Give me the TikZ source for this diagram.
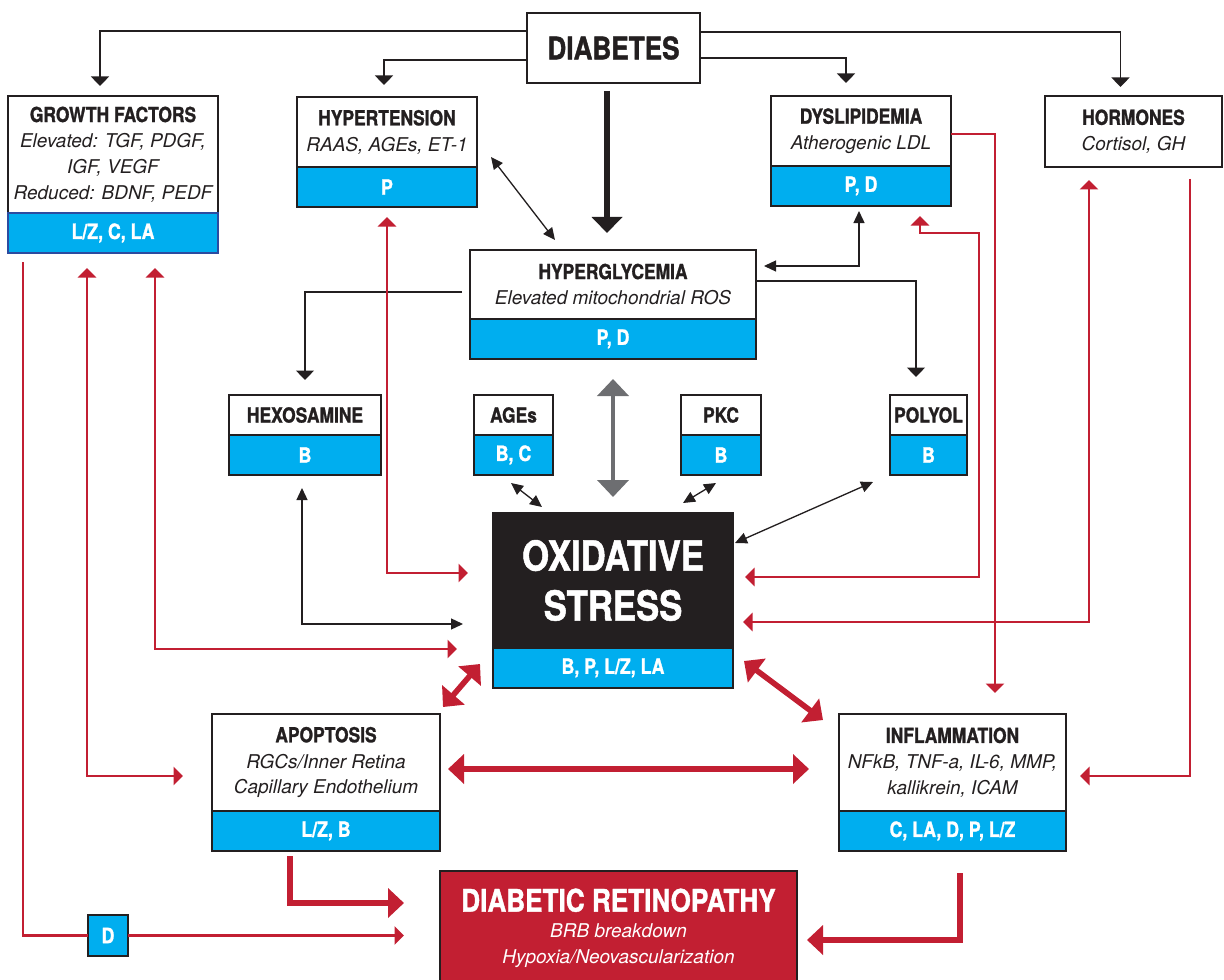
\documentclass[tikz,border=0pt]{standalone}
\usepackage{fontspec}
\setmainfont{TeX Gyre Heros}
\newfontfamily\condfont[FakeStretch=0.84, FakeBold=1.2]{TeX Gyre Heros}
\usetikzlibrary{arrows.meta,positioning,calc}
\definecolor{ink}{HTML}{231F20}
\definecolor{cyanbar}{HTML}{00AEEF}
\definecolor{lesion}{HTML}{C21F32}
\definecolor{navy}{HTML}{2B4BA0}
\definecolor{slate}{HTML}{6D6E71}
\newcommand{\hd}[1]{{\condfont\bfseries\upshape\fontsize{11.8}{14.7}\selectfont #1}}

\begin{document}
\begin{tikzpicture}[x=0.2mm, y=-0.2mm,
  box/.style={draw=ink, line width=1.4pt, fill=white, inner sep=0pt, outer sep=0pt, align=center, text=ink, font=\itshape\fontsize{10.8}{14.7}\selectfont},
  bar/.style={box, fill=cyanbar, text=white, minimum height=8mm, font=\condfont\bfseries\fontsize{12}{14}\selectfont},
  link/.style={draw=ink, line width=0.75pt, -{Triangle[width=3.6mm,length=1.9mm]}},
  twin/.style={draw=ink, line width=0.75pt, {Triangle[width=2.2mm,length=2.4mm]}-{Triangle[width=2.2mm,length=2.4mm]}},
  redlink/.style={draw=lesion, line width=1.5pt, -{Triangle[width=3.6mm,length=1.9mm]}},
  redtwin/.style={draw=lesion, line width=1.5pt, {Triangle[width=3.6mm,length=1.9mm]}-{Triangle[width=3.6mm,length=1.9mm]}},
  heavy/.style={draw=lesion, line width=3.2pt, -{Triangle[width=5.8mm,length=3.2mm]}},
  heavytwin/.style={draw=lesion, line width=3.2pt, {Triangle[width=5.8mm,length=3.2mm]}-{Triangle[width=5.8mm,length=3.2mm]}}
]
  \useasboundingbox (0,0) rectangle (1224,980);

  % top row
  \node[box, minimum width=34.6mm, minimum height=14mm, font=\condfont\bfseries\fontsize{17.7}{20}\selectfont] (diab) at (613.5,48) {DIABETES};
  \node[box, minimum width=42mm, minimum height=23.4mm] (grow) at (113,154.5) {\hd{GROWTH FACTORS}\\Elevated: TGF, PDGF,\\IGF, VEGF\\Reduced: BDNF, PEDF};
  \node[bar, draw=navy, minimum width=42mm, below=0pt of grow] (growS) {L/Z, C, LA};
  \node[box, minimum width=36mm, minimum height=14mm] (hyp) at (387,132) {\hd{HYPERTENSION}\\RAAS, AGEs, ET-1};
  \node[bar, minimum width=36mm, below=0pt of hyp] (hypS) {P};
  \node[box, minimum width=36mm, minimum height=14mm] (dys) at (861,131) {\hd{DYSLIPIDEMIA}\\Atherogenic LDL};
  \node[bar, minimum width=36mm, below=0pt of dys] (dysS) {P, D};
  \node[box, minimum width=35.4mm, minimum height=14.2mm] (horm) at (1133.5,131.5) {\hd{HORMONES}\\Cortisol, GH};

  % hyperglycemia and its pathways
  \node[box, minimum width=57.2mm, minimum height=13.8mm] (hyg) at (613,284.5) {\hd{HYPERGLYCEMIA}\\Elevated mitochondrial ROS};
  \node[bar, minimum width=57.2mm, below=0pt of hyg] (hygS) {P, D};
  \node[box, minimum width=30.4mm, minimum height=8mm] (hex) at (305,415) {\hd{HEXOSAMINE}};
  \node[bar, minimum width=30.4mm, below=0pt of hex] (hexS) {B};
  \node[box, minimum width=15.8mm, minimum height=8mm] (age) at (513.5,415) {\hd{AGEs}};
  \node[bar, minimum width=15.8mm, below=0pt of age] (ageS) {B, C};
  \node[box, minimum width=16mm, minimum height=8mm] (pkc) at (721,415) {\hd{PKC}};
  \node[bar, minimum width=16mm, below=0pt of pkc] (pkcS) {B};
  \node[box, minimum width=15.4mm, minimum height=8mm] (pol) at (928.5,415) {\hd{POLYOL}};
  \node[bar, minimum width=15.4mm, below=0pt of pol] (polS) {B};

  % centre and outcomes
  \node[box, fill=ink, text=white, minimum width=48mm, minimum height=27mm, font=\condfont\bfseries\fontsize{23.5}{28.4}\selectfont] (oxi) at (613,580.5) {OXIDATIVE\\STRESS};
  \node[bar, minimum width=48mm, below=0pt of oxi] (oxiS) {B, P, L/Z, LA};
  \node[box, minimum width=45.6mm, minimum height=19.4mm] (apo) at (326,762.5) {\hd{APOPTOSIS}\\RGCs/Inner Retina\\Capillary Endothelium};
  \node[bar, minimum width=45.6mm, below=0pt of apo] (apoS) {L/Z, B};
  \node[box, minimum width=45.4mm, minimum height=19.4mm] (inf) at (952.5,762.5) {\hd{INFLAMMATION}\\NFkB, TNF-a, IL-6, MMP,\\kallikrein, ICAM};
  \node[bar, minimum width=45.4mm, below=0pt of inf] (infS) {C, LA, D, P, L/Z};
  \node[box, fill=lesion, text=white, minimum width=71.4mm, minimum height=22.8mm] (dr) at (618.5,928) {{\condfont\bfseries\upshape\fontsize{17.7}{20}\selectfont DIABETIC RETINOPATHY}\\BRB breakdown\\Hypoxia/Neovascularization};
  \node[bar, minimum width=8mm, minimum height=8.2mm] (dmark) at (108,935.5) {D};

  % from diabetes
  \draw[link] ($(diab.west)+(0,-17)$) -| ($(grow.north)+(-13,-10)$);
  \draw[link] ($(diab.west)+(0,12)$) -| ($(hyp.north)+(-3,-12)$);
  \draw[link] ($(diab.east)+(0,10)$) -| ($(dys.north)+(-15,-13)$);
  \draw[link] ($(diab.east)+(0,-16)$) -| ($(horm.north)+(-13,-9)$);
  \draw[ink, line width=3.4pt, -{Triangle[width=6mm,length=3.2mm]}] ($(diab.south)+(-6.5,8)$) -- ($(hyg.north)+(-6,-17)$);

  % black links
  \draw[twin] ($(hypS.north east)+(14,-10)$) -- ($(hyg.north west)+(85,-10)$);
  \draw[twin] ($(dysS.south)+(-2,5)$) |- ($(hyg.east)+(8,-18.5)$);
  \draw[link] ($(hyg.east)+(0,-3.5)$) -| ($(pol.north)+(-12.5,-18)$);
  \draw[link] ($(hyg.west)+(-8,7.5)$) -| ($(hex.north)+(0,-15)$);
  \draw[slate, line width=2.8pt, {Triangle[width=6.2mm,length=3.4mm]}-{Triangle[width=6.2mm,length=3.4mm]}] ($(hygS.south)+(0,20)$) -- ($(oxi.north)+(0,-16)$);
  \draw[twin] ($(ageS.south)+(-2.5,8)$) -- ($(oxi.north west)+(49,-6)$);
  \draw[twin] ($(pkcS.south)+(-5,8)$) -- ($(oxi.north east)+(-50,-10)$);
  \draw[twin] ($(polS.south west)+(-17,7)$) -- ($(oxi.north east)+(2,30)$);
  \draw[twin] ($(hexS.south)+(-3,13)$) |- ($(oxi.west)+(-30,43.5)$);

  % red links into oxidative stress
  \draw[redtwin] ($(hypS.south)+(0,10)$) |- ($(oxi.west)+(-25,-7.5)$);
  \draw[redtwin] ($(growS.south)+(42,15)$) |- ($(oxi.west)+(-36,68.5)$);
  \draw[redtwin] ($(growS.south)+(-26,15)$) |- ($(apo.west)+(-29,13.5)$);
  \draw[draw=lesion, line width=1.5pt] ($(growS.south west)+(15,9)$) |- (dmark.west);
  \draw[redlink] (dmark.east) -- ($(dr.west)+(-36,7.5)$);
  \draw[redlink] ($(dys.east)+(0,3)$) -| ($(inf.north)+(42.5,-21)$);
  \draw[redtwin] ($(dysS.south east)+(-31,10)$) |- ($(dysS.south east)+(28,27)$) |- ($(oxi.east)+(12,-3.5)$);
  \draw[redtwin] ($(horm.south)+(-44.5,13)$) |- ($(oxi.east)+(10,41.5)$);
  \draw[redlink] ($(horm.south)+(56.5,12)$) |- ($(inf.east)+(14,13.5)$);

  % heavy red links
  \draw[heavytwin] ($(oxiS.south west)+(-13,-24)$) -- ($(apo.north east)+(3,-7)$);
  \draw[heavytwin] ($(oxiS.south east)+(11,-27)$) -- ($(inf.north west)+(-16,6)$);
  \draw[heavytwin] ($(apo.east)+(8,6.5)$) -- ($(inf.west)+(-30,6.5)$);
  \draw[heavy] ($(apoS.south)+(-36,5)$) |- ($(dr.west)+(-36,-25)$);
  \draw[heavy] ($(infS.south)+(7.5,22)$) |- ($(dr.east)+(10,12)$);
\end{tikzpicture}
\end{document}
